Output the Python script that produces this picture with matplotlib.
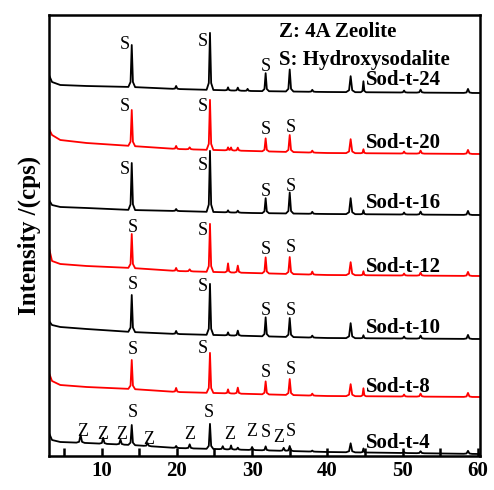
import numpy as np
import matplotlib
matplotlib.use("Agg")
import matplotlib.pyplot as plt

plt.rcParams["font.family"] = ["Liberation Serif", "DejaVu Serif"]

""" data """

samples = ["Sod-t-24", "Sod-t-20", "Sod-t-16", "Sod-t-12", "Sod-t-10", "Sod-t-8", "Sod-t-4"]
colors = ["black", "red", "black", "red", "black", "red", "black"]
offsets = [364, 303, 242, 181, 118, 60, 3]

# background (2theta, intensity above baseline)
bg_x = [3.0, 3.4, 4.5, 8.0, 14.0, 20.0, 30.0, 40.0, 60.3]
bg = {
    "Sod-t-24": [18, 11, 8, 7, 6, 4, 2, 1, 0],
    "Sod-t-20": [25, 19, 14, 11, 8, 5, 3, 1, 0],
    "Sod-t-16": [15, 10, 8, 7, 5, 4, 2, 1, 0],
    "Sod-t-12": [28, 15, 12, 10, 8, 5, 3, 1, 0],
    "Sod-t-10": [18, 14, 12, 10, 7, 5, 3, 1, 0],
    "Sod-t-8": [24, 16, 12, 10, 8, 5, 3, 1, 0],
    "Sod-t-4": [21, 14, 12, 11, 9, 6, 4, 2, 0],
}

# reflections: position, half width
peak_pos = [7.2, 10.2, 12.5, 14.0, 16.1, 19.9, 21.7, 24.4, 26.1, 26.8, 27.2, 28.1,
            29.4, 30.0, 31.8, 34.2, 35.0, 38.0, 43.1, 44.8, 50.2, 52.4, 58.7]
peak_hw = [0.55, 0.5, 0.5, 0.45, 0.5, 0.45, 0.5, 0.45, 0.45, 0.4, 0.4, 0.45,
           0.4, 0.45, 0.45, 0.5, 0.5, 0.45, 0.6, 0.35, 0.45, 0.5, 0.55]

heights = {
    #            7.2 10.2 12.5 14.0 16.1 19.9 21.7 24.4 26.1 26.8 27.2 28.1 29.4 30.0 31.8 34.2 35.0 38.0 43.1 44.8 50.2 52.4 58.7
    "Sod-t-24": [0, 0, 0, 42, 0, 3, 0, 57, 0, 3, 0, 3, 2, 0, 18, 0, 22, 2, 16, 11, 2, 3, 4],
    "Sod-t-20": [0, 0, 0, 36, 0, 3, 2, 50, 0, 3, 3, 3, 0, 0, 13, 0, 17, 2, 14, 4, 2, 3, 4],
    "Sod-t-16": [0, 0, 0, 47, 0, 2, 0, 61, 0, 2, 0, 2, 0, 0, 15, 0, 21, 2, 16, 4, 2, 3, 4],
    "Sod-t-12": [0, 0, 0, 34, 0, 3, 2, 48, 0, 9, 0, 7, 0, 0, 16, 0, 17, 3, 13, 4, 2, 3, 4],
    "Sod-t-10": [0, 0, 0, 37, 0, 3, 0, 51, 0, 3, 0, 5, 0, 0, 19, 0, 19, 2, 15, 3, 2, 3, 4],
    "Sod-t-8": [0, 0, 0, 29, 0, 4, 0, 40, 0, 4, 0, 6, 0, 0, 13, 0, 16, 2, 12, 8, 2, 3, 4],
    "Sod-t-4": [8, 6, 5, 20, 3, 2, 4, 25, 3, 0, 4, 2, 0, 3, 4, 3, 5, 1, 9, 4, 1, 2, 3],
}

# phase marks: (2theta, y, letter)
marks = {
    "Sod-t-24": [(13.05, 412, "S"), (23.4, 415, "S"), (31.8, 390, "S")],
    "Sod-t-20": [(13.05, 350, "S"), (23.4, 350, "S"), (31.8, 327, "S"), (35.1, 329, "S")],
    "Sod-t-16": [(13.05, 287, "S"), (23.4, 291, "S"), (31.8, 265, "S"), (35.1, 270, "S")],
    "Sod-t-12": [(14.1, 229, "S"), (23.5, 226, "S"), (31.8, 207, "S"), (35.1, 209, "S")],
    "Sod-t-10": [(14.1, 172, "S"), (23.5, 170, "S"), (31.8, 146, "S"), (35.1, 146, "S")],
    "Sod-t-8": [(14.1, 107, "S"), (23.5, 108, "S"), (31.8, 84, "S"), (35.1, 87, "S")],
    "Sod-t-4": [(7.5, 25, "Z"), (10.1, 22, "Z"), (12.7, 22, "Z"), (14.1, 44, "S"),
                (16.2, 17, "Z"), (21.7, 22, "Z"), (24.2, 44, "S"), (27.0, 22, "Z"),
                (29.9, 25, "Z"), (31.8, 24, "S"), (33.6, 19, "Z"), (35.1, 25, "S")],
}
name_y = [377, 314, 254, 190, 129, 70, 14]


""" plot """

fig = plt.figure(figsize=(4.94, 4.90), dpi=100)
ax = fig.add_axes([0.0992, 0.0694, 0.8725, 0.900])

for name, col, off, ny in zip(samples, colors, offsets, name_y):
    px = []
    for p, w, h in zip(peak_pos, peak_hw, heights[name]):
        if h > 0:
            px += [p - w, p - 0.35 * w, p, p + 0.35 * w, p + w]
    x = np.unique(np.concatenate([bg_x, px]))
    y = np.interp(x, bg_x, bg[name])
    for p, w, h in zip(peak_pos, peak_hw, heights[name]):
        if h > 0:
            y += np.interp(x, [p - w, p - 0.35 * w, p, p + 0.35 * w, p + w],
                           [0, 0.12 * h, h, 0.12 * h, 0], left=0, right=0)
    ax.plot(x, y + off, color=col, lw=1.3)
    for mx, my, t in marks[name]:
        ax.text(mx, my, t, fontsize=13, ha="center", va="center")
    ax.text(45.2, ny, name, fontsize=15, fontweight="bold", va="center")

ax.text(33.6, 425, "Z: 4A Zeolite", fontsize=15, fontweight="bold", va="center")
ax.text(33.6, 397, "S: Hydroxysodalite", fontsize=15, fontweight="bold", va="center")

ax.set_xlim(3, 60.3)
ax.set_ylim(1, 442)
ax.set_xticks([10, 20, 30, 40, 50, 60])
ax.set_xticks([5, 15, 25, 35, 45, 55], minor=True)
ax.tick_params(axis="x", which="both", direction="in", length=6, width=1.8,
               labelsize=15, top=False)
ax.set_yticks([])
for lbl in ax.get_xticklabels():
    lbl.set_fontweight("bold")
for s in ax.spines.values():
    s.set_linewidth(1.8)

ax.set_ylabel("Intensity /(cps)", fontsize=18, fontweight="bold", labelpad=6)

fig.savefig("out.png", dpi=100)
